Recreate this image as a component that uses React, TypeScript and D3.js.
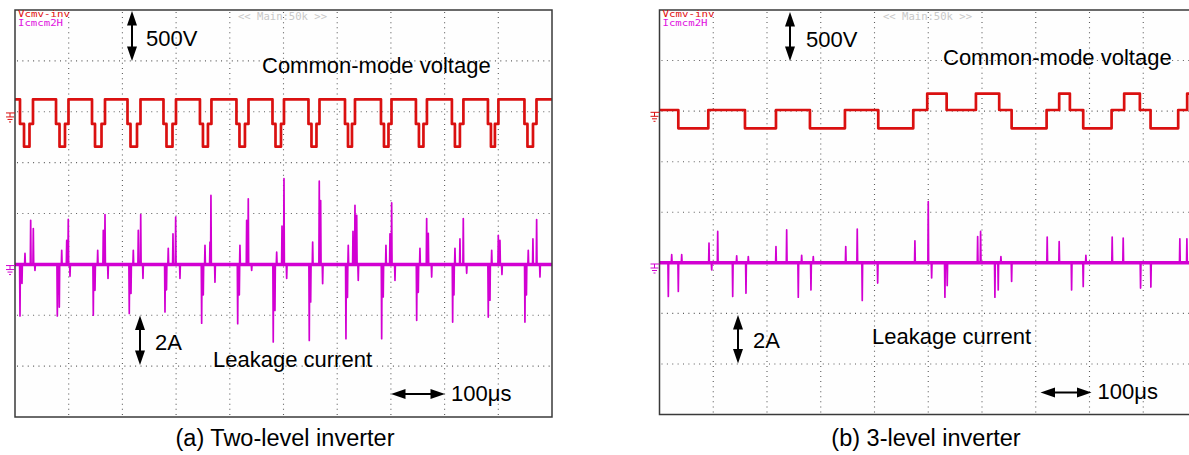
import React from "react";
import * as d3 from "d3";

// ---------- DATA ----------
// Time axis: 100 µs/div, 10 divisions (0..1000 µs). Voltage 500 V/div, current 2 A/div.

// (a) Two-level inverter: common-mode voltage levels (V)
const HIGH_A = 122;
const MID_A = -120;
const LOW_A = -343;
// each dip: [drop to mid, drop to low, rise to mid, rise to high] (µs)
const dipsA: number[][] = [
  [9.3, 16.8, 27.0, 33.5],
  [76.4, 82.9, 93.1, 99.6],
  [143.4, 149.0, 161.1, 167.6],
  [209.5, 215.1, 227.2, 233.7],
  [276.5, 282.1, 293.3, 299.8],
  [344.4, 350.0, 359.3, 365.8],
  [412.4, 418.0, 428.2, 434.8],
  [479.5, 485.1, 495.3, 500.9],
  [546.5, 552.1, 561.4, 567.0],
  [614.5, 620.1, 627.5, 633.1],
  [681.5, 687.1, 695.5, 701.1],
  [746.6, 752.2, 760.6, 767.1],
  [813.6, 819.2, 828.5, 835.0],
  [880.7, 886.3, 893.7, 900.2],
  [948.7, 954.3, 964.6, 971.1],
];
// leakage current spikes (a): [time µs, peak A]
const spikesA: number[][] = [
  [9.3, -2.03], [13.0, -0.75], [18.6, 0.43], [29.2, 1.73], [34.1, 1.41], [37.2, -0.24],
  [78.8, -2.03], [82.5, -1.68], [87.0, 0.55], [96.3, 0.94], [99.2, 1.77], [102.4, -0.47],
  [145.8, -2.0], [149.0, -1.02], [154.0, 0.55], [164.4, 1.34], [167.6, 1.96], [173.2, -0.55],
  [212.8, -1.93], [216.0, -1.14], [220.3, 0.55], [229.6, 1.34], [234.1, 1.96], [238.3, -0.55],
  [279.3, -1.87], [282.1, -1.0], [285.4, 0.63], [294.2, 1.2], [299.2, 1.86], [307.2, -0.55],
  [347.6, -2.31], [350.6, -1.2], [353.8, 0.75], [363.1, 0.88], [364.9, 2.71], [372.4, -0.7],
  [414.7, -2.33], [417.7, -1.2], [418.9, 0.75], [431.4, 1.73], [434.4, 2.58], [440.7, -0.24],
  [480.9, -3.05], [484.1, -1.81], [487.3, 0.48], [497.2, 1.5], [500.9, 3.37], [505.9, -0.55],
  [548.0, -2.99], [550.6, -1.48], [554.3, 0.88], [566.6, 3.27], [569.2, 2.51], [572.9, -0.76],
  [616.3, -2.92], [619.1, -1.3], [620.6, 0.75], [629.4, 1.3], [633.1, 2.32], [636.3, 1.93], [639.2, -0.63],
  [682.8, -2.92], [685.7, -1.28], [690.8, 0.75], [698.3, 1.2], [701.4, 2.42], [707.6, -0.63],
  [748.0, -2.2], [751.0, -1.1], [754.1, 0.63], [766.6, 1.8], [769.6, 1.22], [775.9, -0.5],
  [815.0, -2.27], [817.4, -1.2], [819.3, 0.63], [828.6, 1.0], [834.8, 1.8], [841.1, -0.35],
  [881.3, -2.07], [884.5, -1.41], [887.7, 0.55], [900.0, 1.14], [903.1, 0.94], [906.8, -0.4],
  [949.6, -2.27], [952.4, -1.2], [955.8, 0.55], [964.5, 1.0], [971.4, 1.76], [977.6, -0.5],
];

// (b) 3-level inverter: common-mode voltage levels (V)
const HIGH_B = 174;
const MID_B = 11;
const LOW_B = -170;
// step changes: [time µs, level V]
const stepsB: number[][] = [
  [0, MID_B], [35.0, LOW_B], [90.8, MID_B], [159.0, LOW_B], [216.7, MID_B],
  [279.9, LOW_B], [345.0, MID_B], [407.0, LOW_B], [472.1, MID_B], [498.1, HIGH_B],
  [534.2, MID_B], [588.7, HIGH_B], [632.0, MID_B], [655.1, LOW_B], [720.2, MID_B],
  [743.6, HIGH_B], [763.5, MID_B], [788.3, LOW_B], [841.1, MID_B], [864.5, HIGH_B],
  [893.7, MID_B], [913.6, LOW_B], [965.0, MID_B], [981.7, HIGH_B], [1000, HIGH_B],
];
// leakage current spikes (b): [time µs, peak A]
const spikesB: number[][] = [
  [16.4, -1.33], [22.7, 0.32], [35.0, -1.13], [41.3, 0.32], [92.1, 0.78], [97.1, -0.28],
  [108.3, 1.24], [136.2, -1.33], [143.6, 0.28], [160.9, -1.2], [165.2, 0.25], [216.7, 0.64],
  [236.6, 1.3], [258.2, -1.36], [264.5, 0.3], [281.8, -1.07], [286.1, 0.25], [346.5, 0.64],
  [367.9, 1.33], [377.2, -1.49], [405.9, -0.8], [475.2, 0.87], [500.0, 2.42], [506.3, -0.6],
  [531.0, -1.36], [535.3, -0.9], [591.9, 1.04], [597.4, 1.24], [624.0, -1.36], [630.2, -1.07],
  [635.2, 0.25], [655.1, -0.74], [721.3, 1.02], [743.6, 0.84], [766.7, -1.07], [788.3, -0.94],
  [793.3, 0.3], [842.2, 1.02], [862.7, 0.98], [895.0, -1.0], [914.2, -0.96], [968.1, 0.95],
  [981.2, 0.95],
];

const TIME_RANGE = [0, 1000];
const VOLT_RANGE = [1000, -3000]; // top..bottom of screen (zero 2 div from top)
const AMP_RANGE = [10, -6]; // top..bottom of screen (zero 5 div from top)

// ---------- LAYOUT ----------
const W = 1189;
const H = 455;
const RED = "#da1010";
const MAG = "#d200d2";
const FONT = "'Liberation Sans', Arial, Helvetica, sans-serif";
const MONO = "'DejaVu Sans Mono', 'Liberation Mono', monospace";

type P = { id: string; x0: number; y0: number; w: number; h: number };

function Arrow({ x1, y1, x2, y2 }: { x1: number; y1: number; x2: number; y2: number }) {
  const hl = 14.5;
  const hw = 5;
  if (x1 === x2) {
    return (
      <g>
        <line x1={x1} y1={y1 + hl - 1} x2={x2} y2={y2 - hl + 1} stroke="#000" strokeWidth={2} />
        <path d={`M${x1},${y1}L${x1 - hw},${y1 + hl}L${x1 + hw},${y1 + hl}Z`} fill="#000" />
        <path d={`M${x2},${y2}L${x2 - hw},${y2 - hl}L${x2 + hw},${y2 - hl}Z`} fill="#000" />
      </g>
    );
  }
  return (
    <g>
      <line x1={x1 + hl - 1} y1={y1} x2={x2 - hl + 1} y2={y2} stroke="#000" strokeWidth={2} />
      <path d={`M${x1},${y1}L${x1 + hl},${y1 - hw}L${x1 + hl},${y1 + hw}Z`} fill="#000" />
      <path d={`M${x2},${y2}L${x2 - hl},${y2 - hw}L${x2 - hl},${y2 + hw}Z`} fill="#000" />
    </g>
  );
}

function Ground({ x0, gy, color }: { x0: number; gy: number; color: string }) {
  return (
    <g stroke={color} strokeWidth={1} fill="none">
      <path d={`M${x0 - 9},${gy}H${x0}`} />
      <path d={`M${x0 - 5},${gy}V${gy + 4}`} />
      <path d={`M${x0 - 9},${gy + 4}H${x0 - 1}`} />
      <path d={`M${x0 - 7.5},${gy + 6.5}H${x0 - 2.5}`} />
      <path d={`M${x0 - 6},${gy + 9}H${x0 - 4}`} />
    </g>
  );
}

function Scope({
  p,
  redSteps,
  spikes,
  mainX,
}: {
  p: P;
  redSteps: number[][];
  spikes: number[][];
  mainX: number;
}) {
  const x = d3.scaleLinear().domain(TIME_RANGE).range([p.x0, p.x0 + p.w]);
  const yV = d3.scaleLinear().domain(VOLT_RANGE).range([p.y0, p.y0 + p.h]);
  const yI = d3.scaleLinear().domain(AMP_RANGE).range([p.y0, p.y0 + p.h]);
  const divX = p.w / 10;
  const divY = p.h / 8;

  const vGrid = x.ticks(10).filter((t) => t > 0 && t < 1000);
  const hGrid = d3.range(VOLT_RANGE[1] + 500, VOLT_RANGE[0], 500);

  const red = d3
    .line<number[]>()
    .x((d) => x(d[0]))
    .y((d) => yV(d[1]))
    .curve(d3.curveStepAfter)(redSteps) as string;

  const y0 = yI(0);
  const spikePath = spikes
    .map(([t, a]) => `M${x(t - 0.7)},${y0}L${x(t)},${yI(a)}L${x(t + 0.7)},${y0}`)
    .join("");

  return (
    <g>
      <defs>
        <clipPath id={`clip-${p.id}`}>
          <rect x={p.x0} y={p.y0} width={p.w} height={p.h} />
        </clipPath>
      </defs>
      <rect x={p.x0} y={p.y0} width={p.w} height={p.h} fill="#fefefe" />
      <g stroke="#5c5c5c" strokeWidth={1.1}>
        {vGrid.map((t) => (
          <line
            key={`v${t}`}
            x1={x(t)}
            x2={x(t)}
            y1={p.y0 + 2}
            y2={p.y0 + p.h}
            strokeDasharray={`1 ${divY / 10 - 1}`}
          />
        ))}
        {hGrid.map((v) => (
          <line
            key={`h${v}`}
            x1={p.x0 + 2}
            x2={p.x0 + p.w}
            y1={yV(v)}
            y2={yV(v)}
            strokeDasharray={`1 ${divX / 10 - 1}`}
          />
        ))}
      </g>
      <g clipPath={`url(#clip-${p.id})`}>
        <path d={red} fill="none" stroke={RED} strokeWidth={2.7} strokeLinejoin="round" />
        <line x1={x(0)} x2={x(1000)} y1={y0} y2={y0} stroke={MAG} strokeWidth={3.5} />
        <path d={spikePath} fill="none" stroke={MAG} strokeWidth={1.7} strokeLinejoin="round" />
      </g>
      <rect x={p.x0} y={p.y0} width={p.w} height={p.h} fill="none" stroke="#3a3a3a" strokeWidth={1.5} />
      <Ground x0={p.x0} gy={yV(0) + 1.2} color={RED} />
      <Ground x0={p.x0} gy={y0 + 1.2} color={MAG} />
      <text
        x={p.x0 + 3}
        y={p.y0 + 7.3}
        fill="#e01010"
        fontFamily={MONO}
        fontSize={8}
        textLength={52}
        lengthAdjust="spacingAndGlyphs"
      >
        Vcmv-inv
      </text>
      <text
        x={p.x0 + 3}
        y={p.y0 + 16.3}
        fill="#e010e0"
        fontFamily={MONO}
        fontSize={8}
        textLength={45}
        lengthAdjust="spacingAndGlyphs"
      >
        Icmcm2H
      </text>
      <text
        x={mainX}
        y={p.y0 + 10}
        fill="#c8c8c8"
        fontFamily={MONO}
        fontSize={10}
        textLength={89}
        lengthAdjust="spacingAndGlyphs"
      >
        {"<< Main:50k >>"}
      </text>
    </g>
  );
}

export default function App() {
  const stepsA: number[][] = [[0, HIGH_A]];
  dipsA.forEach(([d, ls, le, r]) => {
    stepsA.push([d, MID_A], [ls, LOW_A], [le, MID_A], [r, HIGH_A]);
  });
  stepsA.push([1000, HIGH_A]);

  const pA: P = { id: "a", x0: 15, y0: 10, w: 537, h: 407 };
  const pB: P = { id: "b", x0: 659.5, y0: 10, w: 537.5, h: 404.5 };

  const txt = { fontFamily: FONT, fontSize: 22, fill: "#000" } as const;
  const cap = { fontFamily: FONT, fontSize: 23.5, fill: "#000" } as const;

  return (
    <svg
      width={W}
      height={H}
      viewBox={`0 0 ${W} ${H}`}
      style={{ position: "absolute", left: 0, top: 0, background: "#fff" }}
    >
      <rect x={0} y={0} width={W} height={H} fill="#fff" />
      <Scope p={pA} redSteps={stepsA} spikes={spikesA} mainX={238} />
      <Scope p={pB} redSteps={stepsB} spikes={spikesB} mainX={883} />

      {/* annotations (a) */}
      <Arrow x1={132} y1={11} x2={132} y2={61} />
      <text {...txt} x={146} y={46}>500V</text>
      <text {...txt} x={262} y={73}>Common-mode voltage</text>
      <Arrow x1={140} y1={315.5} x2={140} y2={365} />
      <text {...txt} x={155} y={350}>2A</text>
      <text {...txt} x={213} y={367}>Leakage current</text>
      <Arrow x1={391} y1={394} x2={445} y2={394} />
      <text {...txt} x={451} y={401}>100μs</text>
      <text {...cap} x={285} y={446} textAnchor="middle">(a) Two-level inverter</text>

      {/* annotations (b) */}
      <Arrow x1={790} y1={12} x2={790} y2={61} />
      <text {...txt} x={806} y={46.5}>500V</text>
      <text {...txt} x={943} y={64.5}>Common-mode voltage</text>
      <Arrow x1={738} y1={315} x2={738} y2={363.5} />
      <text {...txt} x={753} y={348}>2A</text>
      <text {...txt} x={872} y={344}>Leakage current</text>
      <Arrow x1={1040.5} y1={392.5} x2={1091.5} y2={392.5} />
      <text {...txt} x={1097.5} y={398.5}>100μs</text>
      <text {...cap} x={926} y={446} textAnchor="middle">(b) 3-level inverter</text>
    </svg>
  );
}
